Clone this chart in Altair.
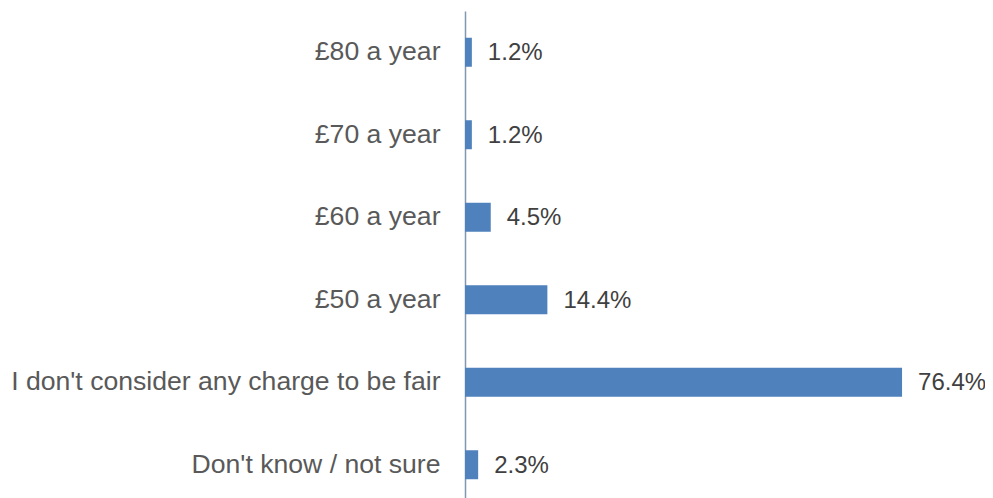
import altair as alt
import pandas as pd

categories = ["£80 a year", "£70 a year", "£60 a year", "£50 a year",
              "I don't consider any charge to be fair", "Don't know / not sure"]
values = [1.2, 1.2, 4.5, 14.4, 76.4, 2.3]
labels = ["1.2%", "1.2%", "4.5%", "14.4%", "76.4%", "2.3%"]

df = pd.DataFrame({"cat": categories, "val": values, "lab": labels})

y = alt.Y("cat:N", sort=categories, title=None,
          scale=alt.Scale(paddingInner=0, paddingOuter=0),
          axis=alt.Axis(labelFont="Liberation Sans", labelFontSize=26.6,
                        labelColor="#595959", labelPadding=25, ticks=False,
                        domainColor="#8497b0", domainWidth=1.5, labelLimit=600))
x = alt.X("val:Q", title=None, scale=alt.Scale(domain=[0, 90.9], nice=False),
          axis=None)

bars = alt.Chart(df).mark_bar(color="#4F81BD", size=29).encode(x=x, y=y)
text = alt.Chart(df).mark_text(align="left", baseline="middle", dx=16, dy=1,
                               font="Liberation Sans", fontSize=24,
                               color="#404040").encode(x=x, y=y, text="lab:N")

chart = (bars + text).properties(
    width=520, height=495,
    autosize=alt.AutoSizeParams(type="none"),
    padding={"left": 457, "top": 3, "right": 0, "bottom": 0},
).configure_view(stroke=None)

chart.save("out.html", embed_options={"renderer": "svg", "actions": False})
